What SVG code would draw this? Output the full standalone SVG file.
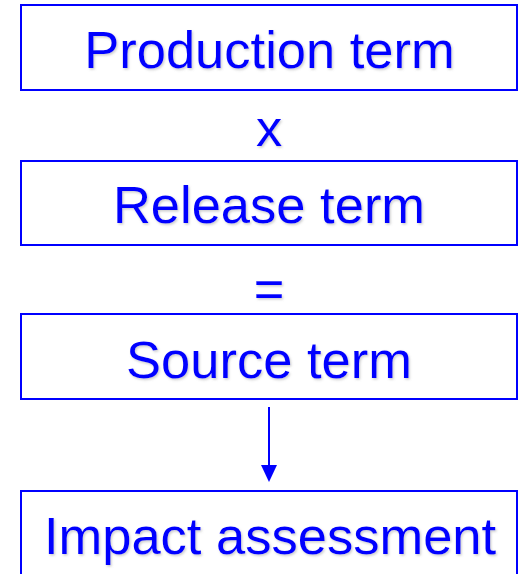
<svg xmlns="http://www.w3.org/2000/svg" width="527" height="574" viewBox="0 0 527 574">
  <style>
    .box { fill: #ffffff; stroke: #0000ff; stroke-width: 2; }
    .label { font-family: "Liberation Sans", Arial, sans-serif; font-size: 52.5px; fill: #0000ff; text-anchor: middle; filter: url(#shadow); }
    .link { stroke: #0000ff; stroke-width: 2; fill: none; }
  </style>
  <defs>
    <filter id="shadow" x="-5%" y="-20%" width="110%" height="140%">
      <feDropShadow dx="1.2" dy="1.5" stdDeviation="1" flood-color="#808080" flood-opacity="0.4"/>
    </filter>
  </defs>

  <rect width="527" height="574" fill="#ffffff"/>

  <g id="production">
    <rect class="box" x="21" y="5" width="496" height="85"/>
    <text class="label" x="269.5" y="68">Production term</text>
  </g>

  <g id="times">
    <text class="label" x="269" y="146">x</text>
  </g>

  <g id="release">
    <rect class="box" x="21" y="161" width="496" height="84"/>
    <text class="label" x="269" y="223">Release term</text>
  </g>

  <g id="equals">
    <text class="label" x="269" y="307">=</text>
  </g>

  <g id="source">
    <rect class="box" x="21" y="314" width="496" height="85"/>
    <text class="label" x="269" y="378">Source term</text>
  </g>

  <g id="impact">
    <rect class="box" x="21" y="491" width="496" height="90"/>
    <text class="label" x="270" y="554">Impact assessment</text>
  </g>

  <g id="connectors">
    <line class="link" x1="269" y1="407" x2="269" y2="465"/>
    <path d="M261,465 L277,465 L269,482 Z" fill="#0000ff"/>
  </g>
</svg>
